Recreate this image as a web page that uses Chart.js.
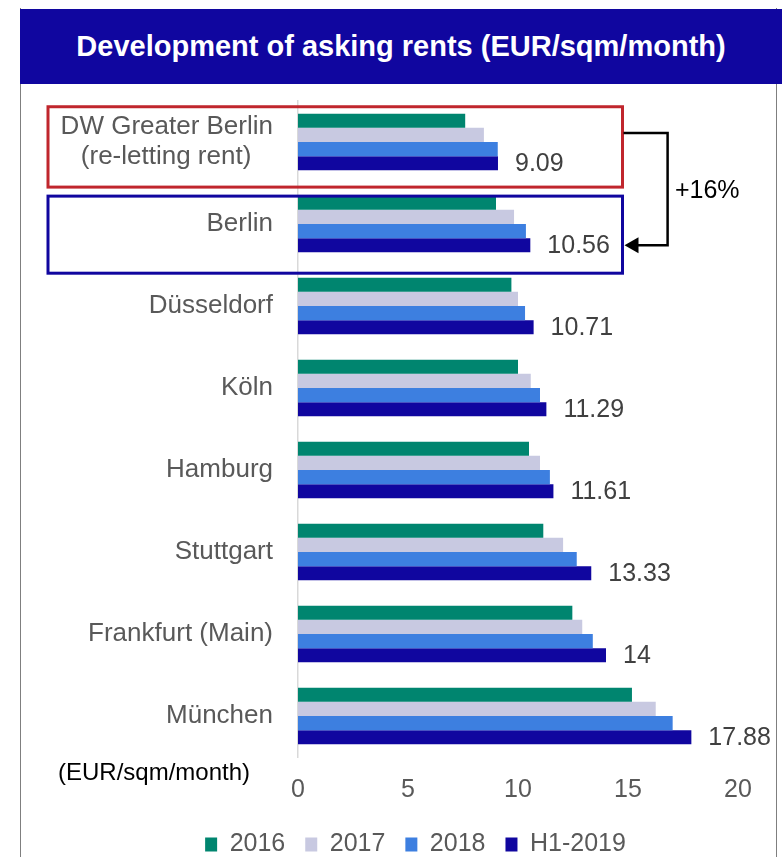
<!DOCTYPE html>
<html>
<head>
<meta charset="utf-8">
<script src="https://cdn.jsdelivr.net/npm/chart.js@4.4.0/dist/chart.umd.min.js"></script>
<style>
  body { margin: 0; background: #fff; }
  #frame { position: absolute; left: 20px; top: 8px; width: 755px; height: 860px;
           border-left: 1.5px solid #7f7f7f; border-right: 1.5px solid #7f7f7f; }
  #banner { position: absolute; left: 20px; top: 9px; width: 762px; height: 75px; background: #10069F;
            color: #fff; font: bold 29px 'Liberation Sans', Arial, sans-serif;
            display: flex; align-items: center; justify-content: center; }
  #myChart { position: absolute; left: 0; top: 0; }
</style>
</head>
<body>
<div id="frame"></div>
<div id="banner">Development of asking rents (EUR/sqm/month)</div>
<canvas id="myChart" width="782" height="857"></canvas>
<script>
// data
var cities = [['DW Greater Berlin', '(re-letting rent)'], 'Berlin', 'Düsseldorf', 'Köln', 'Hamburg', 'Stuttgart', 'Frankfurt (Main)', 'München'];
var rents2016 = [7.6, 9.0, 9.7, 10.0, 10.5, 11.15, 12.47, 15.18];
var rents2017 = [8.45, 9.82, 10.0, 10.58, 11.0, 12.05, 12.92, 16.26];
var rents2018 = [9.08, 10.36, 10.32, 11.0, 11.45, 12.67, 13.4, 17.03];
var rentsH12019 = [9.09, 10.56, 10.71, 11.29, 11.61, 13.33, 14, 17.88];
var xTicks = [0, 5, 10, 15, 20];

var FONT = "'Liberation Sans', Arial, sans-serif";
Chart.defaults.font.family = FONT;

// value labels for the latest period
var valueLabels = {
    id: 'valueLabels',
    afterDatasetsDraw: function(chart) {
        var ctx = chart.ctx;
        var meta = chart.getDatasetMeta(3);
        ctx.save();
        ctx.font = '25px ' + FONT;
        ctx.fillStyle = '#404040';
        ctx.textAlign = 'left';
        ctx.textBaseline = 'middle';
        meta.data.forEach(function(bar, i) {
            ctx.fillText(String(rentsH12019[i]), bar.x + 17, bar.y + 1);
        });
        ctx.restore();
    }
};

// legend sits a bit right of and below the default spot
var legendShift = {
    id: 'legendShift',
    afterLayout: function(chart) {
        var lg = chart.legend;
        lg.left += 23; lg.right += 23;
        lg.top += 10; lg.bottom += 10;
    }
};

// red/blue boxes, arrow and unit note
var highlights = {
    id: 'highlights',
    afterDraw: function(chart) {
        var ctx = chart.ctx;
        var x = chart.scales.x, y = chart.scales.y;
        var c0 = y.getPixelForValue(0), c1 = y.getPixelForValue(1);
        var sp = c1 - c0;
        var left = 48;
        var right = x.getPixelForValue(14.75);
        ctx.save();
        ctx.lineWidth = 3;
        ctx.strokeStyle = '#C0262D';
        ctx.strokeRect(left, c0 - 0.43 * sp, right - left, 0.98 * sp);
        ctx.strokeStyle = '#10069F';
        ctx.strokeRect(left, c1 - 0.34 * sp, right - left, 0.94 * sp);

        var ax = x.getPixelForValue(16.8);
        var y0 = c0 - 0.11 * sp, y1 = c1 + 0.26 * sp;
        ctx.strokeStyle = '#000';
        ctx.lineWidth = 2.5;
        ctx.beginPath();
        ctx.moveTo(right + 1, y0);
        ctx.lineTo(ax, y0);
        ctx.lineTo(ax, y1);
        ctx.lineTo(right + 12, y1);
        ctx.stroke();
        ctx.fillStyle = '#000';
        ctx.beginPath();
        ctx.moveTo(right + 2, y1);
        ctx.lineTo(right + 16, y1 - 8);
        ctx.lineTo(right + 16, y1 + 8);
        ctx.closePath();
        ctx.fill();

        var pct = Math.round((rentsH12019[1] / rentsH12019[0] - 1) * 100);
        ctx.font = '25px ' + FONT;
        ctx.textAlign = 'center';
        ctx.textBaseline = 'middle';
        ctx.fillText('+' + pct + '%', x.getPixelForValue(18.6), (c0 + c1) / 2 + 8);

        ctx.font = '24px ' + FONT;
        ctx.textAlign = 'right';
        ctx.fillText('(EUR/sqm/month)', chart.chartArea.left - 48, chart.chartArea.bottom + 16);
        ctx.restore();
    }
};

var ctx = document.getElementById('myChart').getContext('2d');
var myChart = new Chart(ctx, {
    type: 'bar',
    data: {
        labels: cities,
        datasets: [
            { label: '2016', data: rents2016, backgroundColor: '#00856F' },
            { label: '2017', data: rents2017, backgroundColor: '#C8C9E1' },
            { label: '2018', data: rents2018, backgroundColor: '#3D7FE0' },
            { label: 'H1-2019', data: rentsH12019, backgroundColor: '#10069F' }
        ]
    },
    options: {
        indexAxis: 'y',
        responsive: false,
        animation: false,
        datasets: { bar: { barPercentage: 1, categoryPercentage: 0.69 } },
        layout: { padding: { top: 101, left: 47, right: 44, bottom: 0 } },
        plugins: {
            title: { display: false },
            tooltip: { enabled: false },
            legend: {
                position: 'bottom',
                labels: {
                    boxWidth: 12,
                    boxHeight: 14,
                    padding: 20,
                    color: '#595959',
                    font: { size: 25 }
                }
            }
        },
        scales: {
            y: {
                grid: { display: false, drawTicks: false },
                border: { color: '#d9d9d9', width: 1.5 },
                ticks: {
                    autoSkip: false,
                    padding: 25,
                    color: '#595959',
                    font: { size: 26, lineHeight: 1.15 },
                    callback: function(v, i) {
                        var l = cities[i];
                        return Array.isArray(l) ? [l[0], l[1] + '   '] : l;
                    }
                },
                afterFit: function(s) { s.width = 251; }
            },
            x: {
                min: xTicks[0],
                max: xTicks[xTicks.length - 1],
                grid: { display: false, drawTicks: false },
                border: { display: false },
                ticks: { stepSize: 5, padding: 18, color: '#595959', font: { size: 25 } },
                afterFit: function(s) { s.height = 45; }
            }
        }
    },
    plugins: [valueLabels, legendShift, highlights]
});
</script>
</body>
</html>
